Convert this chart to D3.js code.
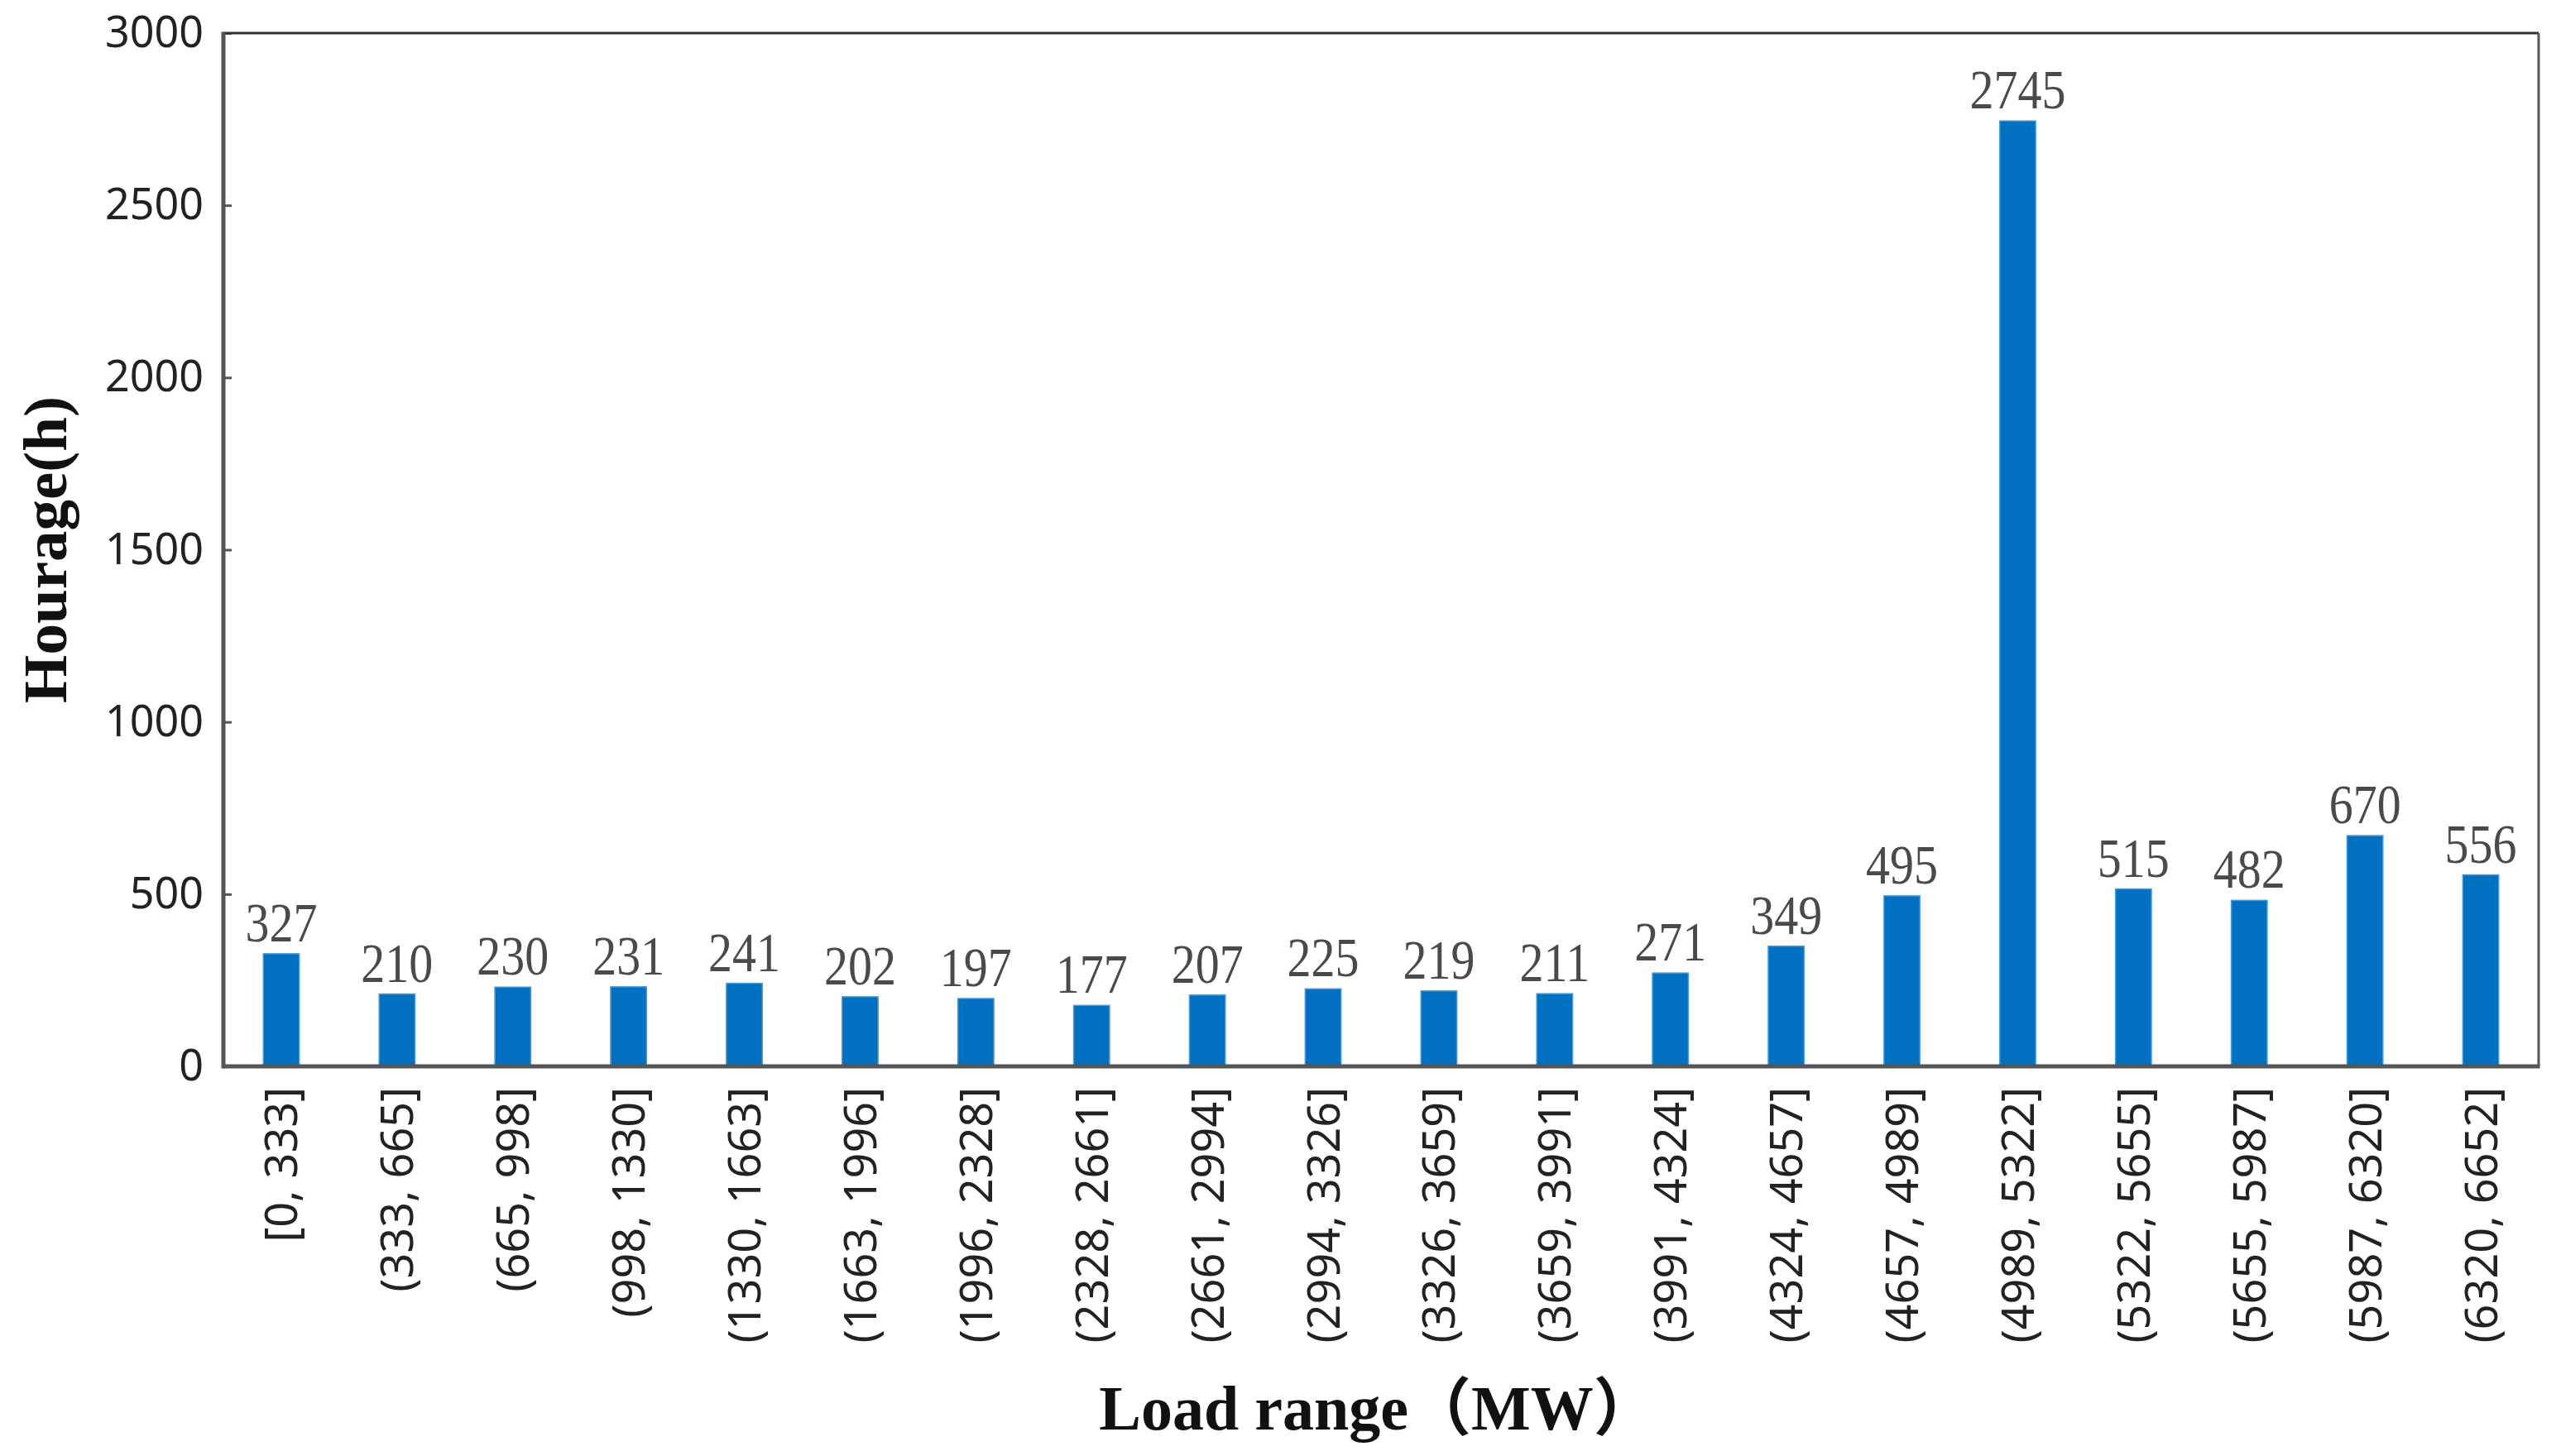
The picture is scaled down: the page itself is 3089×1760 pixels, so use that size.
<!DOCTYPE html>
<html>
<head>
<meta charset="utf-8">
<script src="https://cdn.jsdelivr.net/npm/d3@7"></script>
<style>
  body { margin: 0; background: #fff; }
  svg { display: block; }
</style>
</head>
<body>
<svg id="chart"></svg>
<script>
// load bins (MW) and hours in each bin
const loadRanges = [
  "[0, 333]", "(333, 665]", "(665, 998]", "(998, 1330]", "(1330, 1663]",
  "(1663, 1996]", "(1996, 2328]", "(2328, 2661]", "(2661, 2994]", "(2994, 3326]",
  "(3326, 3659]", "(3659, 3991]", "(3991, 4324]", "(4324, 4657]", "(4657, 4989]",
  "(4989, 5322]", "(5322, 5655]", "(5655, 5987]", "(5987, 6320]", "(6320, 6652]"
];
const hours = [327, 210, 230, 231, 241, 202, 197, 177, 207, 225,
               219, 211, 271, 349, 495, 2745, 515, 482, 670, 556];
const yTicks = [0, 500, 1000, 1500, 2000, 2500, 3000];

const width = 3089, height = 1760;
const margin = { top: 40, right: 21, bottom: 471, left: 270 };

const svg = d3.select("#chart")
  .attr("width", width)
  .attr("height", height);

const x = d3.scaleBand()
  .domain(loadRanges)
  .range([margin.left, width - margin.right])
  .paddingInner(0.69)
  .paddingOuter(0.345);

const y = d3.scaleLinear()
  .domain([0, 3000])
  .range([height - margin.bottom, margin.top]);

const sansFont = "'Noto Sans', 'Open Sans', sans-serif";
const serifFont = "'Liberation Serif', 'Noto Sans CJK SC', serif";

// bars
svg.append("g")
  .selectAll("rect")
  .data(hours)
  .enter()
  .append("rect")
  .attr("x", (d, i) => x(loadRanges[i]))
  .attr("y", d => y(d))
  .attr("width", x.bandwidth())
  .attr("height", d => y(0) - y(d))
  .attr("fill", "#0070c0")
  .attr("stroke", "#4a9bd8")
  .attr("stroke-width", 1.5);

// value labels (a bit taller than plain Times)
svg.append("g")
  .selectAll("text")
  .data(hours)
  .enter()
  .append("text")
  .attr("transform", (d, i) =>
    `translate(${x(loadRanges[i]) + x.bandwidth() / 2},${y(d) - 15}) scale(1,1.15)`)
  .attr("text-anchor", "middle")
  .style("font-family", serifFont)
  .style("font-size", "58px")
  .style("fill", "#4a4a4a")
  .text(d => d);

// y axis
const yAxis = svg.append("g")
  .attr("transform", `translate(${margin.left},0)`)
  .call(d3.axisLeft(y).tickValues(yTicks).tickFormat(d3.format("d"))
    .tickSize(-10).tickPadding(24));
yAxis.select(".domain").remove();
yAxis.selectAll(".tick line").attr("stroke", "#555").attr("stroke-width", 3);
yAxis.selectAll(".tick text")
  .style("font-family", sansFont)
  .style("font-size", "52px")
  .style("fill", "#222");

// x axis
const xAxis = svg.append("g")
  .attr("transform", `translate(0,${y(0)})`)
  .call(d3.axisBottom(x).tickSize(0));
xAxis.select(".domain").remove();
xAxis.selectAll(".tick text")
  .attr("transform", "rotate(-90)")
  .attr("x", -25)
  .attr("y", 0)
  .attr("dy", "0.36em")
  .style("text-anchor", "end")
  .style("font-family", sansFont)
  .style("font-size", "54px")
  .style("fill", "#222");

// frame: thin top/right, heavier left/bottom
const x0 = margin.left, x1 = width - margin.right;
const yTop = y(3000), yBot = y(0);
svg.append("line")
  .attr("x1", x0).attr("x2", x1).attr("y1", yTop).attr("y2", yTop)
  .attr("stroke", "#333").attr("stroke-width", 3);
svg.append("line")
  .attr("x1", x1).attr("x2", x1).attr("y1", yTop).attr("y2", yBot)
  .attr("stroke", "#555").attr("stroke-width", 3);
svg.append("line")
  .attr("x1", x0).attr("x2", x0).attr("y1", yTop - 1.5).attr("y2", yBot + 2.5)
  .attr("stroke", "#555").attr("stroke-width", 5);
svg.append("line")
  .attr("x1", x0).attr("x2", x1 + 1.5).attr("y1", yBot).attr("y2", yBot)
  .attr("stroke", "#555").attr("stroke-width", 5);

// axis titles
svg.append("text")
  .attr("transform", `translate(80,${(yTop + yBot) / 2}) rotate(-90)`)
  .attr("text-anchor", "middle")
  .style("font-family", serifFont)
  .style("font-weight", "bold")
  .style("font-size", "75px")
  .style("fill", "#111")
  .text("Hourage(h)");

svg.append("text")
  .attr("x", 1665)
  .attr("y", 1728)
  .attr("text-anchor", "middle")
  .style("font-family", serifFont)
  .style("font-weight", "bold")
  .style("font-size", "76px")
  .style("fill", "#111")
  .text("Load range（MW）");
</script>
</body>
</html>
